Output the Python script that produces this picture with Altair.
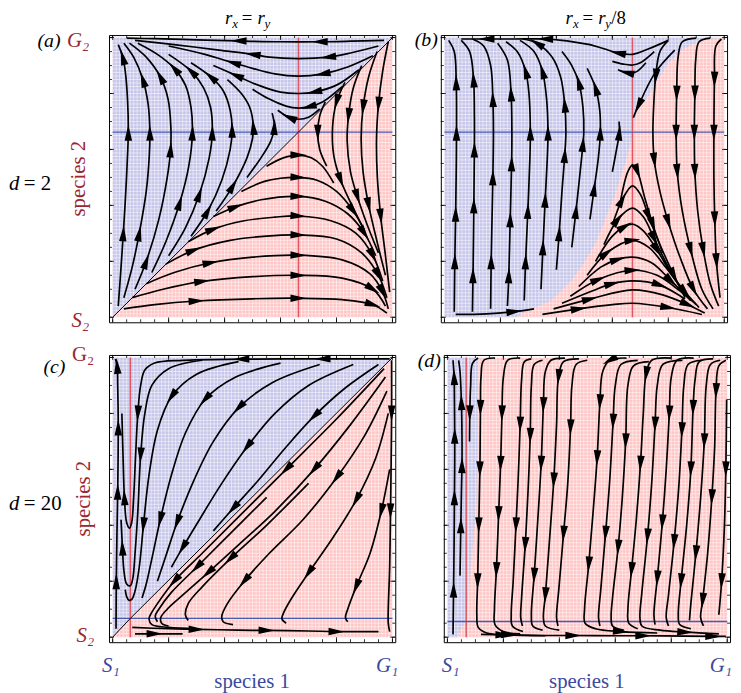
import math
import altair as alt
import pandas as pd

# ------------------------------------------------------------------ data
# nullclines (red: species-2 nullcline x*, blue: species-1 nullcline y*)
NULL_X = {"a": 0.664, "b": 0.672, "c": 0.063, "d": 0.067}
NULL_Y = {"a": 0.662, "b": 0.662, "c": 0.067, "d": 0.056}

# basin boundaries (blue basin lies above / left of it)
BOUND_A = [(0.0, 0.0), (1.0, 1.0)]
BOUND_B = [(0.0, 0.0), (0.26, 0.0), (0.28, 0.015), (0.385, 0.062), (0.456, 0.133),
           (0.504, 0.203), (0.539, 0.262), (0.563, 0.321), (0.586, 0.38), (0.61, 0.438),
           (0.628, 0.497), (0.648, 0.556), (0.664, 0.615), (0.672, 0.662), (0.681, 0.709),
           (0.693, 0.744), (0.729, 0.791), (0.764, 0.85), (0.8, 0.908), (0.847, 0.955),
           (0.918, 0.991), (1.0, 1.0)]
BOUND_C = [(0.0, 0.0), (1.0, 1.0)]
BOUND_D = [(0.035, 0.0), (0.05, 0.03), (0.067, 0.065), (0.077, 0.184), (0.089, 0.304),
           (0.104, 0.483), (0.106, 0.662), (0.109, 1.0)]

# streamlines: (x, y, arrowhead-here flag)
A_LINES = [
    [(0.02, 0.04, 0), (0.03, 0.18, 0), (0.038, 0.3, 1), (0.047, 0.45, 0), (0.054, 0.6, 0), (0.056, 0.66, 1), (0.053, 0.78, 0), (0.045, 0.88, 0), (0.036, 0.93, 1), (0.02, 0.975, 0)],
    [(0.04, 0.07, 0), (0.07, 0.18, 0), (0.095, 0.3, 1), (0.12, 0.45, 0), (0.131, 0.58, 0), (0.133, 0.66, 1), (0.127, 0.76, 0), (0.108, 0.85, 1), (0.075, 0.93, 0), (0.04, 0.98, 0)],
    [(0.08, 0.1, 0), (0.12, 0.2, 1), (0.165, 0.35, 0), (0.195, 0.5, 0), (0.207, 0.6, 1), (0.208, 0.68, 0), (0.198, 0.78, 0), (0.17, 0.86, 1), (0.12, 0.93, 0), (0.06, 0.98, 0)],
    [(0.14, 0.16, 0), (0.19, 0.27, 0), (0.24, 0.41, 1), (0.272, 0.54, 0), (0.285, 0.66, 1), (0.28, 0.75, 0), (0.26, 0.83, 0), (0.22, 0.89, 1), (0.16, 0.94, 0), (0.09, 0.98, 0)],
    [(0.2, 0.22, 0), (0.26, 0.32, 0), (0.31, 0.44, 1), (0.345, 0.57, 0), (0.356, 0.66, 1), (0.35, 0.75, 0), (0.325, 0.82, 0), (0.28, 0.88, 1), (0.2, 0.94, 0)],
    [(0.28, 0.29, 0), (0.34, 0.38, 1), (0.39, 0.49, 0), (0.42, 0.6, 0), (0.427, 0.67, 1), (0.42, 0.74, 0), (0.395, 0.81, 0), (0.35, 0.86, 1), (0.28, 0.91, 0)],
    [(0.37, 0.38, 0), (0.43, 0.47, 1), (0.48, 0.57, 0), (0.5, 0.64, 0), (0.503, 0.68, 1), (0.49, 0.75, 0), (0.46, 0.8, 0), (0.41, 0.85, 0)],
    [(0.48, 0.5, 0), (0.53, 0.57, 0), (0.565, 0.63, 0), (0.578, 0.68, 1), (0.57, 0.73, 0)],
    [(0.97, 0.99, 0), (0.85, 0.987, 0), (0.74, 0.985, 1), (0.6, 0.985, 0), (0.45, 0.988, 1), (0.3, 0.992, 0), (0.15, 0.996, 0), (0.05, 0.998, 0)],
    [(0.95, 0.97, 0), (0.85, 0.945, 0), (0.77, 0.93, 1), (0.664, 0.925, 0), (0.56, 0.93, 0), (0.5, 0.94, 1), (0.38, 0.955, 0), (0.22, 0.975, 0), (0.08, 0.99, 0)],
    [(0.93, 0.935, 0), (0.84, 0.895, 0), (0.75, 0.87, 1), (0.664, 0.862, 0), (0.58, 0.87, 0), (0.5, 0.89, 0), (0.43, 0.91, 1), (0.33, 0.94, 0), (0.2, 0.97, 0)],
    [(0.88, 0.885, 0), (0.8, 0.83, 0), (0.72, 0.805, 1), (0.664, 0.8, 0), (0.6, 0.805, 0), (0.52, 0.83, 0), (0.44, 0.865, 1), (0.36, 0.9, 0)],
    [(0.82, 0.825, 0), (0.75, 0.77, 0), (0.7, 0.752, 1), (0.664, 0.748, 0), (0.62, 0.755, 0), (0.56, 0.78, 0), (0.5, 0.815, 0)],
    [(0.74, 0.745, 0), (0.7, 0.715, 0), (0.664, 0.708, 0), (0.63, 0.715, 1), (0.59, 0.74, 0)],
    [(0.55, 0.54, 0), (0.61, 0.57, 0), (0.664, 0.58, 1), (0.71, 0.57, 0), (0.75, 0.54, 0), (0.79, 0.48, 0)],
    [(0.46, 0.45, 0), (0.54, 0.485, 0), (0.6, 0.497, 0), (0.664, 0.5, 1), (0.73, 0.49, 0), (0.8, 0.45, 0), (0.86, 0.38, 1), (0.9, 0.31, 0)],
    [(0.36, 0.36, 0), (0.44, 0.395, 1), (0.53, 0.42, 0), (0.664, 0.432, 1), (0.76, 0.415, 0), (0.84, 0.37, 0), (0.9, 0.3, 1), (0.94, 0.22, 0)],
    [(0.27, 0.27, 0), (0.36, 0.315, 1), (0.47, 0.345, 0), (0.58, 0.358, 0), (0.664, 0.362, 1), (0.78, 0.345, 0), (0.87, 0.3, 0), (0.93, 0.22, 1), (0.965, 0.13, 0)],
    [(0.19, 0.19, 0), (0.29, 0.24, 1), (0.42, 0.275, 0), (0.55, 0.29, 0), (0.664, 0.294, 1), (0.8, 0.28, 0), (0.89, 0.23, 0), (0.95, 0.15, 1), (0.98, 0.07, 0)],
    [(0.12, 0.12, 0), (0.22, 0.16, 0), (0.35, 0.195, 1), (0.5, 0.215, 0), (0.664, 0.222, 1), (0.82, 0.205, 0), (0.92, 0.155, 0), (0.965, 0.09, 1), (0.985, 0.03, 0)],
    [(0.07, 0.07, 0), (0.18, 0.1, 0), (0.32, 0.128, 1), (0.5, 0.145, 0), (0.664, 0.15, 1), (0.82, 0.14, 0), (0.93, 0.1, 1), (0.975, 0.04, 0)],
    [(0.04, 0.03, 0), (0.15, 0.045, 0), (0.3, 0.058, 1), (0.5, 0.066, 0), (0.664, 0.068, 1), (0.82, 0.063, 0), (0.93, 0.045, 1), (0.98, 0.015, 0)],
    [(0.76, 0.77, 0), (0.74, 0.72, 0), (0.733, 0.66, 1), (0.74, 0.6, 0), (0.765, 0.54, 0)],
    [(0.83, 0.84, 0), (0.8, 0.77, 1), (0.786, 0.68, 0), (0.79, 0.58, 0), (0.815, 0.49, 1), (0.86, 0.39, 0), (0.9, 0.31, 0)],
    [(0.89, 0.9, 0), (0.86, 0.82, 0), (0.843, 0.72, 1), (0.838, 0.63, 0), (0.85, 0.52, 0), (0.875, 0.43, 1), (0.91, 0.33, 0), (0.95, 0.23, 0)],
    [(0.945, 0.95, 0), (0.915, 0.86, 0), (0.895, 0.75, 1), (0.888, 0.64, 0), (0.895, 0.52, 0), (0.915, 0.4, 1), (0.945, 0.27, 0), (0.975, 0.15, 0)],
    [(0.985, 0.985, 0), (0.965, 0.88, 0), (0.95, 0.76, 1), (0.943, 0.64, 0), (0.946, 0.5, 0), (0.958, 0.36, 1), (0.975, 0.22, 0), (0.99, 0.09, 0)],
]
A_SEPS = [[(0.0, 0.0, 0), (0.664, 0.662, 0)], [(1.0, 1.0, 0), (0.664, 0.662, 0)]]

B_LINES = [
    [(0.035, 0.02, 0), (0.037, 0.2, 1), (0.04, 0.37, 1), (0.042, 0.52, 0), (0.043, 0.66, 1), (0.042, 0.84, 1), (0.035, 0.95, 0), (0.015, 0.99, 0)],
    [(0.1, 0.02, 0), (0.102, 0.15, 1), (0.105, 0.4, 1), (0.107, 0.6, 1), (0.107, 0.72, 0), (0.104, 0.85, 1), (0.09, 0.95, 0), (0.06, 0.99, 0)],
    [(0.165, 0.03, 0), (0.167, 0.2, 1), (0.17, 0.35, 0), (0.173, 0.5, 1), (0.175, 0.66, 0), (0.173, 0.78, 1), (0.165, 0.9, 0), (0.14, 0.97, 0), (0.1, 0.995, 0)],
    [(0.225, 0.04, 0), (0.23, 0.15, 1), (0.235, 0.35, 1), (0.24, 0.55, 1), (0.241, 0.66, 0), (0.238, 0.8, 1), (0.225, 0.92, 0), (0.19, 0.98, 0)],
    [(0.285, 0.06, 0), (0.29, 0.2, 1), (0.298, 0.38, 1), (0.305, 0.56, 0), (0.307, 0.66, 1), (0.302, 0.8, 0), (0.29, 0.88, 1), (0.26, 0.95, 0), (0.22, 0.985, 0)],
    [(0.345, 0.1, 0), (0.352, 0.25, 1), (0.36, 0.42, 1), (0.368, 0.58, 0), (0.37, 0.66, 1), (0.365, 0.78, 0), (0.35, 0.88, 1), (0.32, 0.95, 0), (0.27, 0.99, 0)],
    [(0.4, 0.17, 0), (0.41, 0.3, 1), (0.42, 0.45, 0), (0.43, 0.58, 1), (0.434, 0.66, 0), (0.43, 0.76, 1), (0.415, 0.86, 0), (0.385, 0.93, 0), (0.33, 0.98, 1), (0.28, 0.995, 0)],
    [(0.455, 0.25, 0), (0.47, 0.38, 1), (0.485, 0.52, 0), (0.495, 0.62, 1), (0.498, 0.66, 0), (0.495, 0.75, 0), (0.48, 0.84, 1), (0.455, 0.9, 0), (0.42, 0.95, 0)],
    [(0.52, 0.35, 0), (0.535, 0.46, 1), (0.55, 0.57, 0), (0.557, 0.66, 1), (0.555, 0.74, 0), (0.54, 0.82, 1), (0.51, 0.89, 0)],
    [(0.6, 0.52, 0), (0.615, 0.6, 0), (0.625, 0.66, 1), (0.624, 0.7, 0)],
    [(0.52, 0.975, 0), (0.42, 0.99, 0), (0.36, 0.995, 1), (0.25, 0.995, 0), (0.15, 0.995, 1), (0.06, 0.995, 0)],
    [(0.8, 0.99, 0), (0.73, 0.96, 0), (0.672, 0.94, 0), (0.62, 0.945, 1), (0.57, 0.96, 0), (0.52, 0.975, 0)],
    [(0.75, 0.95, 0), (0.7, 0.91, 0), (0.672, 0.902, 0), (0.64, 0.905, 0), (0.6, 0.915, 0)],
    [(0.72, 0.91, 0), (0.69, 0.88, 0), (0.672, 0.873, 0), (0.65, 0.875, 1), (0.62, 0.885, 0)],
    [(0.823, 0.955, 0), (0.752, 0.873, 0), (0.693, 0.756, 1), (0.675, 0.714, 0)],
    [(0.8, 0.99, 0), (0.77, 0.95, 0), (0.755, 0.86, 1), (0.748, 0.76, 0), (0.745, 0.66, 0), (0.75, 0.56, 1), (0.77, 0.45, 0), (0.8, 0.34, 1), (0.84, 0.22, 0), (0.89, 0.1, 1), (0.94, 0.03, 0)],
    [(0.9, 0.998, 0), (0.85, 0.985, 0), (0.835, 0.93, 0), (0.83, 0.8, 1), (0.828, 0.66, 1), (0.832, 0.52, 1), (0.85, 0.38, 0), (0.88, 0.24, 1), (0.92, 0.1, 0), (0.96, 0.03, 0)],
    [(0.95, 0.998, 0), (0.91, 0.985, 0), (0.898, 0.92, 0), (0.895, 0.8, 1), (0.893, 0.66, 1), (0.895, 0.52, 1), (0.905, 0.38, 0), (0.925, 0.24, 1), (0.95, 0.12, 0), (0.98, 0.04, 0)],
    [(0.99, 0.995, 0), (0.97, 0.97, 0), (0.965, 0.85, 1), (0.963, 0.66, 1), (0.963, 0.5, 0), (0.966, 0.35, 1), (0.972, 0.2, 1), (0.985, 0.07, 0)],
    [(0.63, 0.42, 0), (0.655, 0.52, 0), (0.672, 0.545, 0), (0.69, 0.52, 1), (0.715, 0.43, 0), (0.745, 0.33, 1), (0.78, 0.23, 0)],
    [(0.6, 0.33, 0), (0.635, 0.42, 1), (0.672, 0.47, 0), (0.7, 0.44, 0), (0.73, 0.36, 1), (0.77, 0.26, 0), (0.82, 0.15, 1), (0.86, 0.07, 0)],
    [(0.57, 0.26, 0), (0.62, 0.35, 1), (0.672, 0.39, 0), (0.71, 0.36, 0), (0.75, 0.28, 1), (0.8, 0.18, 0), (0.86, 0.08, 0)],
    [(0.54, 0.2, 0), (0.6, 0.29, 0), (0.645, 0.325, 1), (0.672, 0.333, 0), (0.71, 0.31, 0), (0.76, 0.24, 1), (0.82, 0.14, 0), (0.88, 0.06, 0)],
    [(0.51, 0.15, 0), (0.58, 0.23, 1), (0.672, 0.275, 1), (0.73, 0.25, 0), (0.79, 0.18, 0), (0.86, 0.09, 1), (0.91, 0.035, 0)],
    [(0.48, 0.11, 0), (0.56, 0.18, 0), (0.62, 0.207, 1), (0.672, 0.215, 0), (0.74, 0.195, 0), (0.81, 0.13, 1), (0.88, 0.06, 0)],
    [(0.45, 0.075, 0), (0.55, 0.135, 1), (0.672, 0.168, 1), (0.76, 0.15, 0), (0.84, 0.095, 0), (0.9, 0.045, 0)],
    [(0.42, 0.05, 0), (0.53, 0.095, 0), (0.6, 0.12, 1), (0.672, 0.13, 0), (0.77, 0.115, 1), (0.86, 0.065, 0)],
    [(0.39, 0.03, 0), (0.52, 0.065, 1), (0.672, 0.098, 0), (0.78, 0.08, 0), (0.87, 0.045, 1), (0.93, 0.015, 0)],
    [(0.35, 0.01, 0), (0.48, 0.03, 1), (0.6, 0.045, 0), (0.672, 0.05, 0), (0.8, 0.035, 1), (0.92, 0.01, 0)],
    [(0.04, 0.01, 0), (0.15, 0.012, 0), (0.25, 0.02, 1), (0.32, 0.03, 0)],
]
B_SEPS = []

C_LINES = [
    [(0.012, 0.03, 0), (0.013, 0.2, 1), (0.015, 0.35, 0), (0.018, 0.52, 1), (0.02, 0.75, 1), (0.018, 0.9, 0), (0.016, 0.97, 1), (0.01, 0.995, 0)],
    [(0.99, 0.995, 0), (0.75, 0.995, 1), (0.46, 0.994, 1), (0.25, 0.99, 0), (0.15, 0.98, 0), (0.115, 0.955, 0), (0.1, 0.9, 0), (0.09, 0.8, 1), (0.082, 0.65, 0), (0.075, 0.5, 0), (0.068, 0.41, 0), (0.06, 0.39, 0), (0.05, 0.41, 0), (0.042, 0.5, 1), (0.037, 0.65, 0), (0.033, 0.8, 0)],
    [(0.32, 0.99, 0), (0.2, 0.96, 0), (0.14, 0.9, 0), (0.115, 0.8, 0), (0.1, 0.65, 1), (0.09, 0.45, 0), (0.08, 0.3, 0), (0.072, 0.21, 0), (0.063, 0.184, 0), (0.05, 0.19, 0), (0.04, 0.24, 0), (0.035, 0.32, 1), (0.03, 0.42, 0)],
    [(0.45, 0.985, 0), (0.3, 0.94, 0), (0.21, 0.86, 1), (0.16, 0.74, 0), (0.13, 0.58, 0), (0.11, 0.4, 1), (0.095, 0.25, 0), (0.08, 0.165, 0), (0.068, 0.135, 0), (0.058, 0.132, 0), (0.05, 0.145, 0), (0.045, 0.17, 0)],
    [(0.6, 0.98, 0), (0.44, 0.93, 0), (0.33, 0.85, 1), (0.26, 0.73, 0), (0.21, 0.58, 0), (0.17, 0.42, 1), (0.14, 0.28, 0), (0.12, 0.19, 0), (0.105, 0.14, 0)],
    [(0.74, 0.975, 0), (0.57, 0.91, 0), (0.45, 0.82, 1), (0.36, 0.7, 0), (0.29, 0.56, 0), (0.23, 0.41, 1), (0.19, 0.29, 0), (0.16, 0.2, 0)],
    [(0.86, 0.975, 0), (0.7, 0.9, 0), (0.58, 0.8, 0), (0.48, 0.68, 1), (0.39, 0.55, 0), (0.31, 0.42, 0), (0.25, 0.32, 1), (0.21, 0.25, 0)],
    [(0.95, 0.975, 0), (0.83, 0.89, 0), (0.72, 0.79, 1), (0.62, 0.68, 0), (0.52, 0.56, 0), (0.43, 0.46, 1), (0.36, 0.38, 0)],
    [(0.997, 0.99, 0), (0.997, 0.8, 1), (0.995, 0.6, 0), (0.993, 0.45, 1), (0.99, 0.25, 0), (0.985, 0.1, 0), (0.985, 0.05, 0), (0.99, 0.02, 0)],
    [(0.97, 0.96, 0), (0.8, 0.78, 0), (0.62, 0.6, 1), (0.45, 0.43, 0), (0.32, 0.3, 0), (0.22, 0.2, 1), (0.16, 0.12, 0), (0.135, 0.08, 0), (0.13, 0.065, 0), (0.14, 0.045, 0), (0.2, 0.035, 0), (0.3, 0.03, 0)],
    [(0.55, 0.5, 0), (0.42, 0.37, 0), (0.3, 0.25, 1), (0.21, 0.16, 0), (0.165, 0.1, 0), (0.152, 0.075, 0), (0.16, 0.055, 0)],
    [(0.975, 0.93, 0), (0.85, 0.76, 0), (0.72, 0.6, 1), (0.58, 0.45, 0), (0.45, 0.33, 0), (0.34, 0.23, 1), (0.25, 0.15, 0), (0.195, 0.1, 0), (0.172, 0.07, 0), (0.175, 0.05, 0), (0.2, 0.04, 0)],
    [(0.7, 0.55, 0), (0.55, 0.4, 0), (0.42, 0.28, 1), (0.32, 0.18, 0), (0.27, 0.12, 0), (0.26, 0.08, 0), (0.27, 0.06, 0)],
    [(0.98, 0.88, 0), (0.9, 0.72, 0), (0.8, 0.57, 1), (0.68, 0.42, 0), (0.56, 0.3, 0), (0.47, 0.2, 1), (0.41, 0.12, 0), (0.39, 0.075, 0), (0.395, 0.055, 0), (0.43, 0.045, 0)],
    [(0.985, 0.8, 0), (0.94, 0.64, 0), (0.87, 0.49, 1), (0.79, 0.36, 0), (0.7, 0.23, 1), (0.64, 0.14, 0), (0.61, 0.085, 0), (0.605, 0.065, 0), (0.62, 0.05, 0)],
    [(0.99, 0.6, 0), (0.96, 0.45, 1), (0.92, 0.3, 0), (0.87, 0.18, 1), (0.84, 0.1, 0), (0.832, 0.07, 0), (0.84, 0.055, 0)],
    [(0.07, 0.035, 0), (0.2, 0.03, 0), (0.3, 0.028, 1), (0.45, 0.025, 0), (0.55, 0.024, 1), (0.7, 0.022, 0), (0.8, 0.02, 1), (0.95, 0.02, 0)],
    [(0.08, 0.012, 0), (0.15, 0.012, 1), (0.25, 0.012, 0)],
]
C_SEPS = [[(0.0, 0.0, 0), (0.063, 0.067, 0)], [(1.0, 1.0, 0), (0.063, 0.067, 0)]]

D_LINES = [
    [(0.02, 0.01, 0), (0.022, 0.17, 1), (0.024, 0.35, 0), (0.025, 0.5, 1), (0.026, 0.62, 0), (0.026, 0.72, 1), (0.025, 0.85, 0), (0.024, 0.93, 1), (0.02, 0.99, 0)],
    [(0.045, 0.22, 0), (0.048, 0.4, 1), (0.05, 0.52, 0), (0.052, 0.615, 1), (0.052, 0.72, 0), (0.05, 0.84, 1), (0.045, 0.95, 0), (0.04, 0.99, 0)],
    [(0.11, 0.998, 0), (0.09, 0.98, 0), (0.083, 0.9, 0), (0.08, 0.8, 1), (0.079, 0.7, 0)],
    [(0.17, 0.998, 0), (0.13, 0.99, 0), (0.12, 0.93, 0), (0.118, 0.82, 1), (0.116, 0.6, 1), (0.112, 0.4, 1), (0.108, 0.2, 1), (0.105, 0.08, 0), (0.11, 0.035, 0), (0.14, 0.015, 0), (0.22, 0.008, 1), (0.35, 0.005, 0)],
    [(0.26, 0.998, 0), (0.215, 0.99, 0), (0.2, 0.93, 0), (0.195, 0.8, 1), (0.19, 0.62, 1), (0.183, 0.44, 1), (0.175, 0.24, 1), (0.168, 0.1, 0), (0.17, 0.045, 0), (0.2, 0.02, 0), (0.26, 0.012, 0)],
    [(0.3, 0.995, 0), (0.275, 0.985, 0), (0.265, 0.92, 0), (0.26, 0.76, 1), (0.253, 0.57, 0), (0.245, 0.4, 1), (0.235, 0.2, 0), (0.228, 0.08, 0), (0.232, 0.04, 0), (0.27, 0.02, 0)],
    [(0.34, 0.99, 0), (0.31, 0.975, 0), (0.3, 0.9, 0), (0.296, 0.72, 1), (0.288, 0.52, 0), (0.278, 0.33, 1), (0.265, 0.14, 0), (0.262, 0.07, 0), (0.268, 0.04, 0)],
    [(0.42, 0.998, 0), (0.37, 0.99, 0), (0.35, 0.95, 0), (0.343, 0.83, 1), (0.335, 0.62, 1), (0.323, 0.42, 0), (0.31, 0.22, 1), (0.3, 0.08, 0), (0.305, 0.04, 0), (0.34, 0.025, 0)],
    [(0.47, 0.995, 0), (0.415, 0.985, 0), (0.397, 0.93, 1), (0.39, 0.76, 0), (0.38, 0.56, 1), (0.365, 0.35, 0), (0.35, 0.15, 1), (0.343, 0.07, 0), (0.35, 0.04, 0), (0.4, 0.025, 0)],
    [(0.5, 0.99, 0), (0.46, 0.975, 0), (0.445, 0.9, 0), (0.44, 0.75, 1), (0.43, 0.55, 0), (0.415, 0.37, 1), (0.398, 0.17, 0), (0.39, 0.07, 0), (0.395, 0.04, 0)],
    [(0.64, 0.998, 0), (0.58, 0.99, 1), (0.555, 0.95, 0), (0.545, 0.84, 1), (0.535, 0.64, 1), (0.52, 0.44, 0), (0.505, 0.26, 1), (0.49, 0.1, 0), (0.492, 0.05, 0), (0.53, 0.03, 0), (0.62, 0.02, 1), (0.75, 0.015, 0)],
    [(0.68, 0.99, 0), (0.62, 0.975, 0), (0.6, 0.9, 0), (0.592, 0.77, 1), (0.58, 0.56, 0), (0.565, 0.37, 1), (0.548, 0.17, 0), (0.54, 0.07, 0), (0.545, 0.04, 0)],
    [(0.72, 0.985, 0), (0.665, 0.97, 0), (0.645, 0.9, 0), (0.637, 0.7, 1), (0.625, 0.5, 0), (0.61, 0.32, 1), (0.59, 0.14, 0), (0.585, 0.07, 0), (0.59, 0.04, 0), (0.63, 0.025, 0)],
    [(0.8, 0.998, 0), (0.73, 0.99, 0), (0.71, 0.94, 1), (0.7, 0.8, 0), (0.69, 0.62, 1), (0.675, 0.42, 0), (0.658, 0.24, 1), (0.645, 0.1, 0), (0.648, 0.05, 0), (0.68, 0.03, 0)],
    [(0.84, 0.99, 0), (0.77, 0.975, 0), (0.75, 0.9, 0), (0.742, 0.76, 1), (0.73, 0.55, 0), (0.715, 0.36, 1), (0.695, 0.16, 0), (0.688, 0.07, 0), (0.695, 0.04, 0), (0.76, 0.025, 0), (0.85, 0.018, 1), (0.97, 0.012, 0)],
    [(0.88, 0.998, 0), (0.82, 0.99, 0), (0.8, 0.93, 0), (0.793, 0.8, 1), (0.782, 0.6, 0), (0.768, 0.41, 1), (0.75, 0.21, 1), (0.738, 0.08, 0), (0.742, 0.045, 0)],
    [(0.91, 0.99, 0), (0.86, 0.975, 0), (0.845, 0.9, 0), (0.838, 0.74, 1), (0.827, 0.54, 0), (0.81, 0.34, 1), (0.79, 0.15, 0), (0.782, 0.07, 0), (0.79, 0.04, 0)],
    [(0.95, 0.995, 0), (0.9, 0.985, 0), (0.885, 0.92, 0), (0.878, 0.82, 1), (0.87, 0.6, 1), (0.855, 0.4, 0), (0.835, 0.2, 1), (0.825, 0.08, 0), (0.83, 0.045, 0), (0.87, 0.03, 0)],
    [(0.975, 0.99, 0), (0.94, 0.975, 0), (0.925, 0.9, 0), (0.918, 0.7, 1), (0.905, 0.5, 0), (0.888, 0.3, 1), (0.87, 0.12, 0), (0.865, 0.06, 0)],
    [(0.995, 0.99, 0), (0.97, 0.97, 0), (0.96, 0.88, 1), (0.955, 0.68, 0), (0.945, 0.5, 1), (0.93, 0.3, 0), (0.912, 0.13, 1), (0.905, 0.07, 0), (0.915, 0.04, 0)],
    [(0.998, 0.85, 0), (0.995, 0.6, 1), (0.99, 0.4, 0), (0.98, 0.2, 1), (0.97, 0.08, 0)],
    [(0.12, 0.01, 0), (0.2, 0.008, 1), (0.35, 0.006, 0), (0.45, 0.006, 1), (0.6, 0.005, 0), (0.7, 0.005, 1), (0.85, 0.004, 0), (0.95, 0.003, 1), (0.995, 0.003, 0)],
]
D_SEPS = []

# ------------------------------------------------------------------ style
W, H = 289, 290
XD = [-0.013, 1.01]
YD = [-0.018, 1.009]
BLUE_FILL = "#c6c6ea"
PINK_FILL = "#ffc6c6"
RED_LINE = "#e25561"
BLUE_LINE = "#4a5ab2"
SP2 = "#9a2832"
SP1 = "#3a4a9e"
SERIF = "Liberation Serif"
ARROW = "M0,-1L0.47,1L-0.47,1Z"

XS = alt.Scale(domain=XD, nice=False, zero=False)
YS = alt.Scale(domain=YD, nice=False, zero=False)


def X(f):
    return alt.X(f, type="quantitative", scale=XS, axis=None)


def Y(f):
    return alt.Y(f, type="quantitative", scale=YS, axis=None)


def lines_frames(lines):
    rows, arrows = [], []
    for li, pts in enumerate(lines):
        for k, (x, y, a) in enumerate(pts):
            rows.append({"line": li, "k": k, "x": x, "y": y})
            if a:
                p0 = pts[max(k - 1, 0)]
                p1 = pts[min(k + 1, len(pts) - 1)]
                ang = (math.degrees(math.atan2(p1[0] - p0[0], p1[1] - p0[1])) + 360) % 360
                arrows.append({"x": x, "y": y, "ang": ang})
    return pd.DataFrame(rows), pd.DataFrame(arrows, columns=["x", "y", "ang"])


ONE = pd.DataFrame({"x0": [0.0], "x1": [1.0], "y0": [0.0], "y1": [1.0]})
MESH = pd.DataFrame({"v": [i / 80 for i in range(81)], "z0": 0.0, "z1": 1.0})
MINOR = pd.DataFrame({"v": [i / 20 for i in range(21)]})
MAJOR = pd.DataFrame({"v": [i / 5 for i in range(6)]})


def txt(text, x, y, size=20, color="black", italic=False, align="left", angle=0,
        baseline="alphabetic"):
    props = dict(text=text, fontSize=size, color=color, font=SERIF,
                 fontStyle="italic" if italic else "normal", align=align, baseline=baseline)
    if angle:
        props["angle"] = angle
    return alt.Chart(ONE).mark_text(**props).encode(x=alt.value(x), y=alt.value(y))


def ticks(df, length):
    base = alt.Chart(df).mark_rule(color="black", strokeWidth=0.8)
    return [
        base.encode(x=X("v"), y=alt.value(H), y2=alt.value(H - length)),
        base.encode(x=X("v"), y=alt.value(0), y2=alt.value(length)),
        base.encode(y=Y("v"), x=alt.value(0), x2=alt.value(length)),
        base.encode(y=Y("v"), x=alt.value(W), x2=alt.value(W - length)),
    ]


def panel(key, lines, seps, boundary, horizontal, texts):
    bg = alt.Chart(ONE).mark_rect(color=PINK_FILL).encode(
        x=X("x0"), x2="x1", y=Y("y0"), y2="y1")
    bdf = pd.DataFrame(boundary, columns=["x", "y"])
    bdf["z0"] = 0.0
    bdf["z1"] = 1.0
    if horizontal:
        blue = alt.Chart(bdf).mark_area(color=BLUE_FILL, orient="horizontal").encode(
            y=Y("y"), x=X("z0"), x2="x")
    else:
        blue = alt.Chart(bdf).mark_area(color=BLUE_FILL, orient="vertical").encode(
            x=X("x"), y=Y("y"), y2="z1")
    vmesh = alt.Chart(MESH).mark_rule(color="white", strokeWidth=1, opacity=0.5).encode(
        x=X("v"), y=Y("z0"), y2="z1")
    hmesh = alt.Chart(MESH).mark_rule(color="white", strokeWidth=1, opacity=0.5).encode(
        y=Y("v"), x=X("z0"), x2="z1")
    nd = pd.DataFrame({"xs": [NULL_X[key]], "ys": [NULL_Y[key]], "z0": [0.0], "z1": [1.0]})
    red = alt.Chart(nd).mark_rule(color=RED_LINE, strokeWidth=1.5).encode(
        x=X("xs"), y=Y("z0"), y2="z1")
    bl = alt.Chart(nd).mark_rule(color=BLUE_LINE, strokeWidth=1.3).encode(
        y=Y("ys"), x=X("z0"), x2="z1")
    layers = [bg, blue, vmesh, hmesh, red, bl]
    if seps:
        sdf, _ = lines_frames(seps)
        layers.append(alt.Chart(sdf).mark_line(color="black", strokeWidth=1.0).encode(
            x=X("x"), y=Y("y"), detail="line:N", order="k:Q"))
    ldf, adf = lines_frames(lines)
    layers.append(alt.Chart(ldf).mark_line(color="black", strokeWidth=1.7,
                                           interpolate="catmull-rom", clip=True).encode(
        x=X("x"), y=Y("y"), detail="line:N", order="k:Q"))
    layers.append(alt.Chart(adf).mark_point(shape=ARROW, filled=True, color="black",
                                            size=260, opacity=1, strokeWidth=0,
                                            clip=True).encode(
        x=X("x"), y=Y("y"), angle=alt.Angle("ang:Q", scale=None)))
    layers += ticks(MINOR, 3)
    layers += ticks(MAJOR, 5)
    layers += texts
    return alt.layer(*layers).properties(width=W, height=H)


TEXT_A = [
    txt("(a)", -49, 12, italic=True, align="right"),
    txt("G\u2082", -20, 12, size=21, color=SP2, italic=True, align="right"),
    txt("species 2", -30, H / 2, size=21, color=SP2, align="center", angle=270,
        baseline="middle"),
    txt("d", -101, 156, size=21, italic=True),
    txt("= 2", -86, 156, size=21),
    txt("S\u2082", -20, 295, size=21, color=SP2, italic=True, align="right"),
    txt("r", 117, -11, size=19, italic=True),
    txt("x", 124.5, -7, size=13, italic=True),
    txt("=", 134, -11, size=19),
    txt("r", 150, -11, size=19, italic=True),
    txt("y", 157, -7, size=13, italic=True),
]
TEXT_B = [
    txt("(b)", -3, 11, italic=True, align="right"),
    txt("r", 126, -11, size=19, italic=True),
    txt("x", 133.5, -7, size=13, italic=True),
    txt("=", 143, -11, size=19),
    txt("r", 159, -11, size=19, italic=True),
    txt("y", 166, -7, size=13, italic=True),
    txt("/8", 172, -11, size=19),
]
TEXT_C = [
    txt("(c)", -44, 18, italic=True, align="right"),
    txt("G\u2082", -15, 6, size=21, color=SP2, align="right"),
    txt("species 2", -25, H / 2, size=21, color=SP2, align="center", angle=270,
        baseline="middle"),
    txt("d", -101, 157, size=21, italic=True),
    txt("= 20", -86, 157, size=21),
    txt("S\u2082", -15, 290, size=21, color=SP2, italic=True, align="right"),
    txt("S\u2081", -7, 320, size=21, color=SP1, italic=True),
    txt("G\u2081", W + 3, 320, size=21, color=SP1, italic=True, align="right"),
    txt("species 1", W / 2, 336, size=21, color=SP1, align="center"),
]
TEXT_D = [
    txt("(d)", -3, 12, italic=True, align="right"),
    txt("S\u2081", -2, 320, size=21, color=SP1, italic=True),
    txt("G\u2081", W + 2, 320, size=21, color=SP1, italic=True, align="right"),
    txt("species 1", W / 2, 336, size=21, color=SP1, align="center"),
]

pa = panel("a", A_LINES, A_SEPS, BOUND_A, False, TEXT_A)
pb = panel("b", B_LINES, B_SEPS, BOUND_B, False, TEXT_B)
pc = panel("c", C_LINES, C_SEPS, BOUND_C, False, TEXT_C)
pdd = panel("d", D_LINES, D_SEPS, BOUND_D, True, TEXT_D)

chart = alt.vconcat(
    alt.hconcat(pa, pb, spacing=18),
    alt.hconcat(pc, pdd, spacing=18),
    spacing=11,
).properties(padding={"left": 0, "top": -3, "right": 0, "bottom": 0}).configure_view(
    stroke="black", strokeWidth=1)

chart.save("out.html", embed_options={"renderer": "svg", "actions": False})
